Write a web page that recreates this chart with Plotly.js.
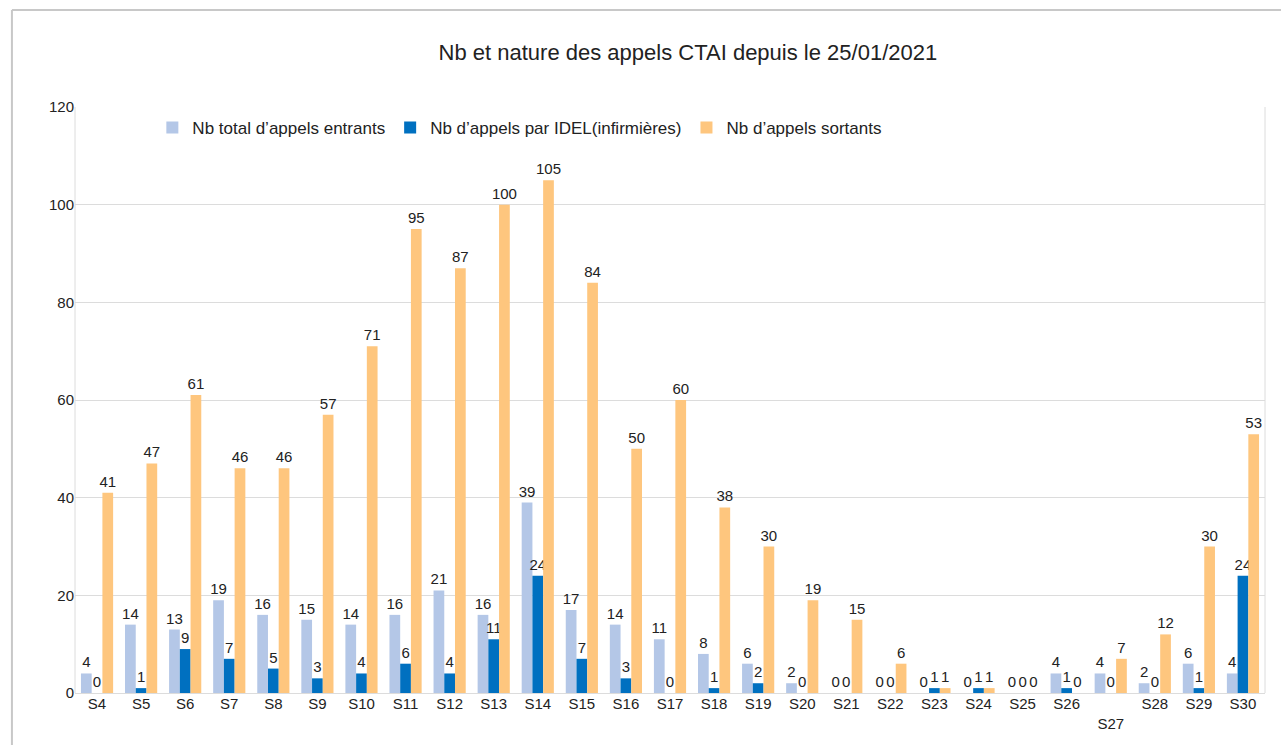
<!DOCTYPE html>
<html>
<head>
<meta charset="utf-8">
<script src="https://cdn.plot.ly/plotly-3.0.1.min.js"></script>
<style>
  html, body { margin: 0; padding: 0; background: #fff; }
  #chart { width: 1281px; height: 745px; }
</style>
</head>
<body>
<div id="chart"></div>
<script>
const weeks = ['S4', 'S5', 'S6', 'S7', 'S8', 'S9', 'S10', 'S11', 'S12', 'S13', 'S14', 'S15', 'S16', 'S17', 'S18', 'S19', 'S20', 'S21', 'S22', 'S23', 'S24', 'S25', 'S26', 'S27', 'S28', 'S29', 'S30']
const weekLabels = ['S4', 'S5', 'S6', 'S7', 'S8', 'S9', 'S10', 'S11', 'S12', 'S13', 'S14', 'S15', 'S16', 'S17', 'S18', 'S19', 'S20', 'S21', 'S22', 'S23', 'S24', 'S25', 'S26', '<br>S27', 'S28', 'S29', 'S30']
const entrants = [4, 14, 13, 19, 16, 15, 14, 16, 21, 16, 39, 17, 14, 11, 8, 6, 2, 0, 0, 0, 0, 0, 4, 4, 2, 6, 4]
const idel = [0, 1, 9, 7, 5, 3, 4, 6, 4, 11, 24, 7, 3, 0, 1, 2, 0, 0, 0, 1, 1, 0, 1, 0, 0, 1, 24]
const sortants = [41, 47, 61, 46, 46, 57, 71, 95, 87, 100, 105, 84, 50, 60, 38, 30, 19, 15, 6, 1, 1, 0, 0, 7, 12, 30, 53]
const yTicks = [0, 20, 40, 60, 80, 100, 120]

const labelFont = { family: 'Liberation Sans, Arial, sans-serif', size: 15, color: '#222' }

function series(name, values, color) {
  return {
    x: weeks,
    y: values,
    name: name,
    type: 'bar',
    marker: { color: color },
    text: values.map(String),
    textposition: 'outside',
    textfont: labelFont,
    cliponaxis: false
  }
}

var data = [
  series('Nb total d\u2019appels entrants', entrants, '#b4c7e7'),
  series('Nb d\u2019appels par IDEL(infirmières)', idel, '#0070c0'),
  series('Nb d\u2019appels sortants', sortants, '#fec67e')
]

var layout = {
  width: 1281,
  height: 745,
  margin: { l: 75, r: 16, t: 107, b: 52 },
  barmode: 'group',
  bargap: 0.27,
  bargroupgap: 0,
  paper_bgcolor: '#fff',
  plot_bgcolor: '#fff',
  font: { family: 'Liberation Sans, Arial, sans-serif', size: 15, color: '#222' },
  title: {
    text: 'Nb et nature des appels CTAI depuis le 25/01/2021',
    font: { size: 22, color: '#222' },
    x: 0.537,
    xanchor: 'center',
    y: 0.94
  },
  legend: {
    orientation: 'h',
    x: 0.065,
    y: 0.995,
    xanchor: 'left',
    yanchor: 'top',
    font: { size: 17 },
    bgcolor: 'rgba(0,0,0,0)',
    itemwidth: 30,
    traceorder: 'normal'
  },
  uniformtext: { mode: 'show', minsize: 15 },
  xaxis: {
    type: 'category',
    tickvals: weeks,
    ticktext: weekLabels,
    tickfont: { size: 15 },
    showgrid: false,
    zeroline: false,
    showline: false,
    ticks: ''
  },
  yaxis: {
    range: [0, 120],
    tickvals: yTicks,
    tickfont: { size: 15 },
    gridcolor: '#dcdcdc',
    gridwidth: 1,
    zeroline: true,
    zerolinecolor: '#dcdcdc',
    showline: false,
    ticks: '',
    ticklen: 0
  },
  shapes: [
    { type: 'line', xref: 'paper', yref: 'paper', x0: 1, x1: 1, y0: 0, y1: 1, line: { color: '#dcdcdc', width: 1 } },
    { type: 'line', xref: 'paper', yref: 'paper', x0: 0, x1: 0, y0: 0, y1: 1, line: { color: '#dcdcdc', width: 1 } },
    { type: 'line', xref: 'paper', yref: 'paper', x0: -0.053, x1: 1.02, y0: 1.1655, y1: 1.1655, line: { color: '#c8c8c8', width: 2 } },
    { type: 'line', xref: 'paper', yref: 'paper', x0: -0.053, x1: -0.053, y0: -0.1, y1: 1.1655, line: { color: '#c8c8c8', width: 2 } }
  ]
}

Plotly.newPlot('chart', data, layout, { displayModeBar: false, responsive: false })
</script>
</body>
</html>
